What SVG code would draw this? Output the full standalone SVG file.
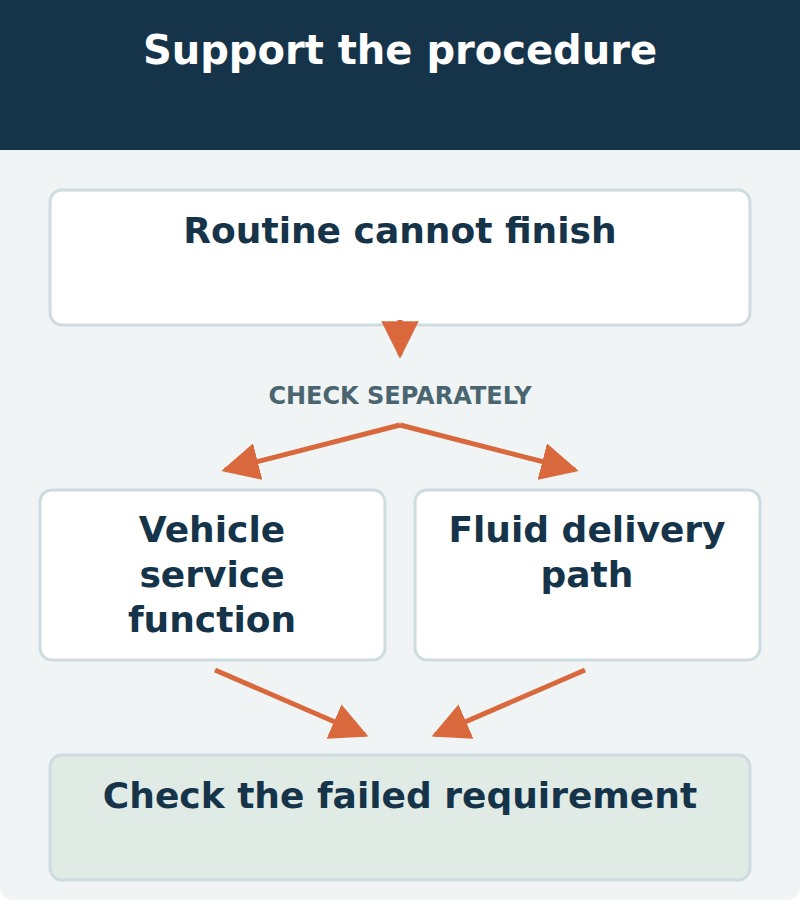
<svg xmlns="http://www.w3.org/2000/svg" width="800" height="900" viewBox="0 0 800 900">
<style>
.box{fill:#fff;stroke:#cfdcdf;stroke-width:3}
.t{font-family:"DejaVu Sans",sans-serif;font-weight:bold;fill:#163449;text-anchor:middle}
.c{stroke:#d9693c;stroke-width:5;fill:none}
</style>
<defs>
<marker id="ah" viewBox="0 0 10 10" refX="9" refY="5" markerWidth="7.5" markerHeight="7.5" markerUnits="strokeWidth" orient="auto">
<path d="M0,0 L10,5 L0,10 Z" fill="#d9693c"/>
</marker>
</defs>
<path d="M0,0 H800 V885 Q800,900 785,900 H15 Q0,900 0,885 Z" fill="#f0f4f5"/>
<rect x="0" y="0" width="800" height="150" fill="#163449"/>
<text x="400" y="64" class="t" style="fill:#fff;font-size:40px">Support the procedure</text>
<g id="n1"><rect class="box" x="50" y="190" width="700" height="135" rx="12"/>
<text class="t" x="400" y="243" font-size="36">Routine cannot finish</text></g>
<g id="lbl"><text x="400" y="404" class="t" style="fill:#4a6470;font-size:24px">CHECK SEPARATELY</text></g>
<g id="n2"><rect class="box" x="40" y="490" width="345" height="170" rx="12"/>
<text class="t" font-size="36"><tspan x="212" y="542">Vehicle</tspan><tspan x="212" y="587">service</tspan><tspan x="212" y="632">function</tspan></text></g>
<g id="n3"><rect class="box" x="415" y="490" width="345" height="170" rx="12"/>
<text class="t" font-size="36"><tspan x="587" y="542">Fluid delivery</tspan><tspan x="587" y="587">path</tspan></text></g>
<g id="n4"><rect class="box" x="50" y="755" width="700" height="125" rx="12" style="fill:#e0ebe6"/>
<text class="t" x="400" y="808" font-size="36">Check the failed requirement</text></g>
<g id="connectors">
<line class="c" x1="400" y1="320" x2="400" y2="355" marker-end="url(#ah)"/>
<line class="c" x1="400" y1="425" x2="225" y2="470" marker-end="url(#ah)"/>
<line class="c" x1="400" y1="425" x2="575" y2="470" marker-end="url(#ah)"/>
<line class="c" x1="215" y1="670" x2="365" y2="735" marker-end="url(#ah)"/>
<line class="c" x1="585" y1="670" x2="435" y2="735" marker-end="url(#ah)"/>
</g>
</svg>
